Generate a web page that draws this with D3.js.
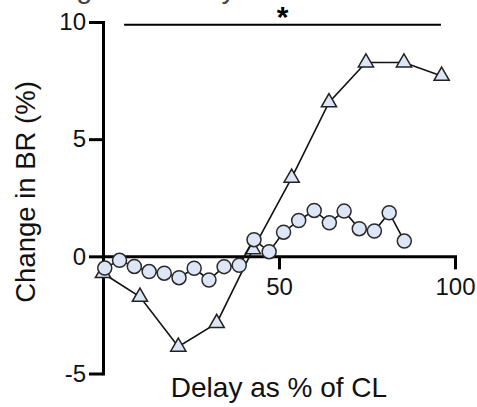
<!DOCTYPE html>
<html><head><meta charset="utf-8">
<script src="https://cdn.jsdelivr.net/npm/d3@7"></script>
<style>
html,body{margin:0;padding:0;background:#fff;}
svg{display:block;font-family:"Liberation Sans",Arial,sans-serif;}
</style></head>
<body>
<svg id="chart" width="477" height="407"></svg>
<script>
// Data
const circleX = [0.5, 4.7, 8.9, 13.1, 17.4, 21.6, 25.9, 30.1, 34.4, 38.7, 42.9, 47.2, 51.3, 55.6, 60.0, 64.3, 68.5, 72.8, 77.1, 81.3, 85.6];
const circleY = [-0.5, -0.17, -0.43, -0.65, -0.72, -0.91, -0.51, -1.01, -0.44, -0.38, 0.71, 0.2, 1.03, 1.53, 1.96, 1.43, 1.93, 1.18, 1.08, 1.86, 0.65];
const triX = [0, 10.5, 21.4, 32.3, 42.6, 53.6, 64.2, 74.7, 85.5, 96.2];
const triY = [-0.72, -1.73, -3.86, -2.85, 0.3, 3.35, 6.57, 8.27, 8.27, 7.7];
const xTicks = [50, 100];
const yTicks = [-5, 0, 5, 10];
const yTickLabels = ["-5", "0", "5", "10"];
const sigRange = [6, 96];
const sigLabel = "*";
const xTitle = "Delay as % of CL";
const yTitle = "Change in BR (%)";
const topTitle = "Change in activity";

const svg = d3.select("#chart");
const x = d3.scaleLinear().domain([0, 100]).range([103, 455]);
const y = d3.scaleLinear().domain([-5, 10]).range([373.5, 22]);

// clipped title at top (cut off in the reference as well)
svg.append("text").attr("x", 7).attr("y", -2).attr("font-size", 29)
  .attr("fill", "#444").text(topTitle);

// Y axis
const gy = svg.append("g").attr("transform", `translate(${x(0)},0)`)
  .call(d3.axisLeft(y).tickValues(yTicks).tickSize(14).tickSizeOuter(0).tickPadding(3)
    .tickFormat((d, i) => yTickLabels[i]));
gy.select(".domain").attr("stroke", "#000").attr("stroke-width", 3).attr("stroke-linecap", "square");
gy.selectAll(".tick line").attr("stroke", "#000").attr("stroke-width", 3);
gy.selectAll(".tick text").attr("font-size", 24).attr("fill", "#111").attr("font-family", "Liberation Sans, Arial, sans-serif");

// X axis at y=0
const gx = svg.append("g").attr("transform", `translate(0,${y(0)})`)
  .call(d3.axisBottom(x).tickValues(xTicks).tickSize(13).tickSizeOuter(0).tickPadding(9).tickFormat(d => String(d)));
gx.select(".domain").attr("stroke", "#000").attr("stroke-width", 3).attr("stroke-linecap", "square");
gx.selectAll(".tick line").attr("stroke", "#000").attr("stroke-width", 3);
gx.selectAll(".tick text").attr("font-size", 24).attr("fill", "#111").attr("font-family", "Liberation Sans, Arial, sans-serif");

// significance bar
svg.append("line").attr("x1", x(sigRange[0])).attr("x2", x(sigRange[1]))
  .attr("y1", y(9.88)).attr("y2", y(9.88)).attr("stroke", "#000").attr("stroke-width", 2);
svg.append("text").attr("x", x((sigRange[0] + sigRange[1]) / 2)).attr("y", 27)
  .attr("text-anchor", "middle").attr("font-size", 30).attr("font-weight", "bold")
  .attr("fill", "#000").text(sigLabel);

// titles
svg.append("text").attr("x", x(50)).attr("y", 397).attr("text-anchor", "middle")
  .attr("font-size", 28).attr("fill", "#111").text(xTitle);
svg.append("text").attr("transform", "rotate(-90)").attr("x", -192).attr("y", 35)
  .attr("text-anchor", "middle").attr("font-size", 27.5).attr("fill", "#111").text(yTitle);

const fillCol = "#dce6f6";
const line = d3.line().x(d => x(d[0])).y(d => y(d[1]));

// triangle series
const triData = triX.map((v, i) => [v, triY[i]]);
svg.append("path").datum(triData).attr("d", line).attr("fill", "none")
  .attr("stroke", "#111").attr("stroke-width", 1.6);
svg.selectAll(".tri").data(triData).join("path").attr("class", "tri")
  .attr("d", d3.symbol(d3.symbolTriangle, 100))
  .attr("transform", d => `translate(${x(d[0])},${y(d[1])})`)
  .attr("fill", fillCol).attr("stroke", "#222").attr("stroke-width", 1.5);

// circle series
const cirData = circleX.map((v, i) => [v, circleY[i]]);
svg.append("path").datum(cirData).attr("d", line).attr("fill", "none")
  .attr("stroke", "#111").attr("stroke-width", 1.6);
svg.selectAll(".cir").data(cirData).join("circle").attr("class", "cir")
  .attr("cx", d => x(d[0])).attr("cy", d => y(d[1])).attr("r", 7)
  .attr("fill", fillCol).attr("stroke", "#2a2a2a").attr("stroke-width", 1.5);
</script>
</body></html>
